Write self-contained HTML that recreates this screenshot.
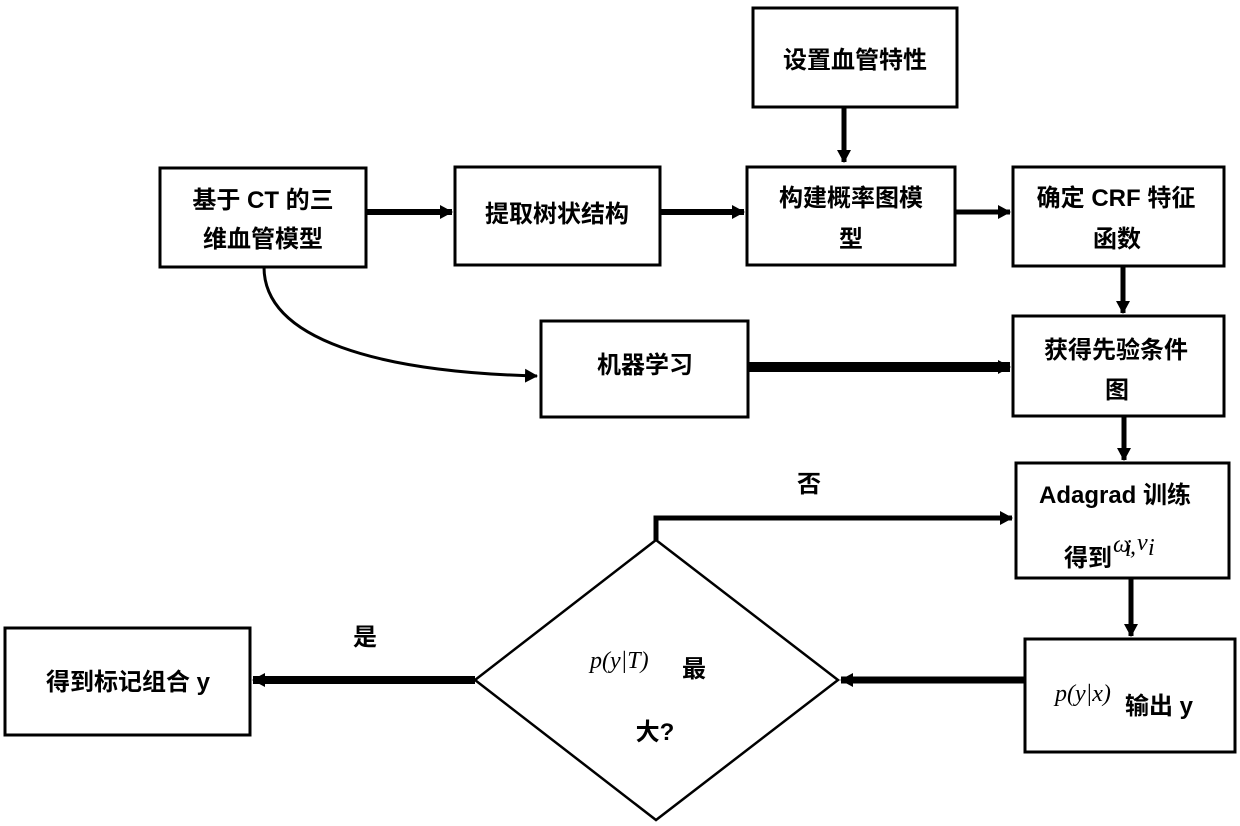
<!DOCTYPE html>
<html><head><meta charset="utf-8"><style>
html,body{margin:0;padding:0;background:#fff;width:1240px;height:826px;overflow:hidden}
svg text{font-family:"Liberation Sans","Noto Sans CJK SC",sans-serif;font-size:24px;font-weight:bold;fill:#000}
svg text.m{font-family:"Liberation Serif",serif;font-style:italic;font-weight:normal}
</style></head><body>
<svg width="1240" height="826" viewBox="0 0 1240 826" xmlns="http://www.w3.org/2000/svg">
<defs>
<marker id="b" markerWidth="14" markerHeight="14" refX="12" refY="7" orient="auto" markerUnits="userSpaceOnUse"><path d="M0,0L13,7L0,14z" fill="#000"/></marker>
</defs>
<g fill="#fff" stroke="#000" stroke-width="3">
<rect x="753" y="8" width="204" height="99"/>
<rect x="160" y="168" width="206" height="99"/>
<rect x="455" y="167" width="205" height="98"/>
<rect x="747" y="167" width="208" height="98"/>
<rect x="1013" y="167" width="211" height="99"/>
<rect x="541" y="321" width="207" height="96"/>
<rect x="1013" y="316" width="211" height="100"/>
<rect x="1016" y="463" width="213" height="115"/>
<rect x="1025" y="639" width="210" height="113"/>
<rect x="5" y="628" width="245" height="107"/>
<polygon points="656,540 838,680 656,820 475,680" stroke-width="2.5"/>
</g>
<g stroke="#000" fill="none">
<line x1="844" y1="107" x2="844" y2="162" stroke-width="5" marker-end="url(#b)"/>
<line x1="366" y1="212" x2="452" y2="212" stroke-width="6" marker-end="url(#b)"/>
<line x1="660" y1="212" x2="744" y2="212" stroke-width="6" marker-end="url(#b)"/>
<line x1="955" y1="212" x2="1010" y2="212" stroke-width="5" marker-end="url(#b)"/>
<line x1="1123" y1="266" x2="1123" y2="313" stroke-width="5" marker-end="url(#b)"/>
<line x1="748" y1="367" x2="1010" y2="367" stroke-width="10" marker-end="url(#b)"/>
<line x1="1124" y1="416" x2="1124" y2="460" stroke-width="5" marker-end="url(#b)"/>
<line x1="1131" y1="578" x2="1131" y2="636" stroke-width="5" marker-end="url(#b)"/>
<line x1="1025" y1="680" x2="841" y2="680" stroke-width="7" marker-end="url(#b)"/>
<line x1="475" y1="680" x2="253" y2="680" stroke-width="8" marker-end="url(#b)"/>
<polyline points="656,540 656,518 1012,518" stroke-width="5" marker-end="url(#b)"/>
<path d="M264,267 C264,340 380,372 537,376" stroke-width="3" marker-end="url(#b)"/>
</g>
<text x="855" y="68" text-anchor="middle">设置血管特性</text>
<text x="263" y="208" text-anchor="middle">基于 CT 的三</text>
<text x="263" y="247" text-anchor="middle">维血管模型</text>
<text x="557" y="222" text-anchor="middle">提取树状结构</text>
<text x="851" y="206" text-anchor="middle">构建概率图模</text>
<text x="851" y="247" text-anchor="middle">型</text>
<text x="1116" y="206" text-anchor="middle">确定 CRF 特征</text>
<text x="1117" y="247" text-anchor="middle">函数</text>
<text x="645" y="373" text-anchor="middle">机器学习</text>
<text x="1116" y="358" text-anchor="middle">获得先验条件</text>
<text x="1117" y="398" text-anchor="middle">图</text>
<text x="1115" y="503" text-anchor="middle">Adagrad 训练</text>
<text x="1064" y="566">得到</text>
<text x="1113" y="552" class="m" font-size="17">ω</text><text x="1125" y="556" class="m" font-size="13">i</text><text x="1130" y="554" class="m" font-size="17">,</text><text x="1137" y="550" class="m" font-size="17">ν</text><text x="1148" y="555" class="m" font-size="13">i</text>
<text x="809" y="492" text-anchor="middle">否</text>
<text x="365" y="645" text-anchor="middle">是</text>
<text x="590" y="668" class="m" font-size="22">p(y|T)</text><text x="682" y="677">最</text>
<text x="655" y="740" text-anchor="middle">大?</text>
<text x="1055" y="701" class="m" font-size="22">p(y|x)</text><text x="1125" y="714">输出 y</text>
<text x="128" y="690" text-anchor="middle">得到标记组合 y</text>
</svg>
</body></html>
